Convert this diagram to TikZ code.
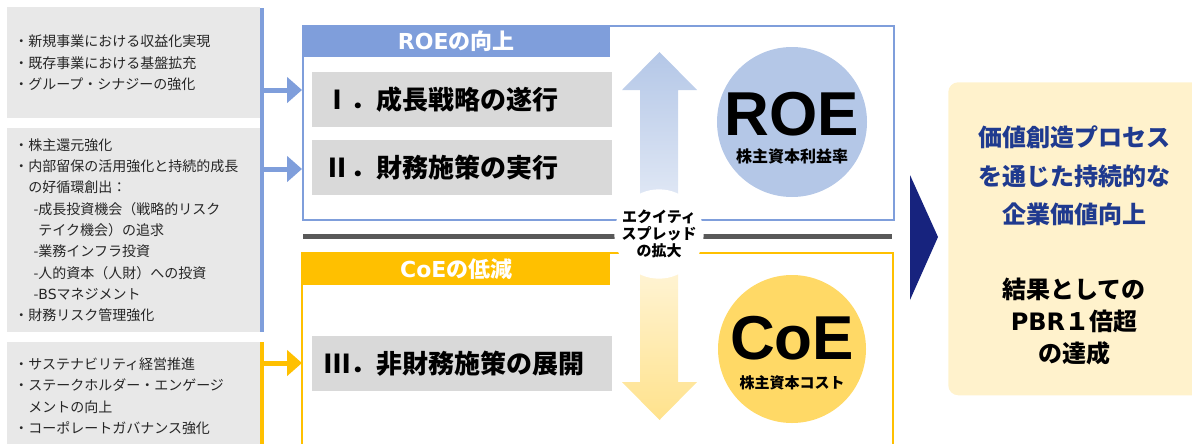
\documentclass[tikz,border=0pt]{standalone}
\usepackage{fontspec}
\setmainfont{Noto Sans CJK JP}
\newfontfamily\lat{DejaVu Sans}
\newfontfamily\arl{Liberation Sans}
\usetikzlibrary{arrows.meta}
\definecolor{lgray}{HTML}{E8E8E8}
\definecolor{mgray}{HTML}{D9D9D9}
\definecolor{roeblue}{HTML}{7F9EDB}
\definecolor{coeyel}{HTML}{FFC000}
\definecolor{roecirc}{HTML}{B4C7E7}
\definecolor{coecirc}{HTML}{FFD966}
\definecolor{darkline}{HTML}{595959}
\definecolor{navy}{HTML}{17237E}
\definecolor{textblue}{HTML}{1F3A8F}
\definecolor{cream}{HTML}{FFF2CC}
\definecolor{upA}{HTML}{B4C7E7}
\definecolor{upB}{HTML}{EAEFF8}
\definecolor{dnA}{HTML}{FFF8E6}
\definecolor{dnB}{HTML}{FFE28C}
\newcommand{\myb}{・}
\newcommand{\myind}{\phantom{・}}
\newcommand{\mysub}{\phantom{・}\hspace{4pt}}
\begin{document}
\begin{tikzpicture}[x=0.75pt,y=-0.75pt,
  leftbox/.style={rectangle, fill=lgray, anchor=north west, inner xsep=5.25pt, inner ysep=0pt,
    text width=179.25pt, align=left, font=\fontsize{10.5pt}{16pt}\selectfont, text=black!85},
  stratbox/.style={rectangle, fill=mgray, anchor=north west, inner xsep=9pt, inner ysep=0pt,
    text width=207pt, minimum height=41.25pt, align=left, font=\fontsize{19.5pt}{22pt}\selectfont\bfseries},
  header/.style={rectangle, anchor=north west, inner sep=0pt, minimum width=231pt, minimum height=24pt,
    text=white, font=\fontsize{16.5pt}{18pt}\selectfont\bfseries},
  feed/.style={line width=3.75pt, -{Triangle[length=11.25pt,width=19pt]}},
  bar/.style={line width=2.6pt},
  frameline/.style={line width=1.5pt},
  bigcirc/.style={circle, inner sep=0pt},
  bigword/.style={font=\arl\fontsize{46.5pt}{46.5pt}\selectfont\bfseries},
  subword/.style={font=\fontsize{12pt}{14pt}\selectfont\bfseries},
]
\useasboundingbox (0,0) rectangle (1192,443);

% left boxes
\node[leftbox, minimum height=83.25pt] (L1) at (7,7) {%
\myb 新規事業における収益化実現\\
\myb 既存事業における基盤拡充\\
\myb グループ・シナジーの強化};
\node[leftbox, minimum height=153pt] (L2) at (7,128) {%
\myb 株主還元強化\\
\myb 内部留保の活用強化と持続的成長\\
\myind の好循環創出：\\
\mysub -成長投資機会（戦略的リスク\\
\mysub \phantom{-}テイク機会）の追求\\
\mysub -業務インフラ投資\\
\mysub -人的資本（人財）への投資\\
\mysub -{\lat BS}マネジメント\\
\myb 財務リスク管理強化};
\node[leftbox, minimum height=81pt] (L3) at (7,342) {%
\myb サステナビリティ経営推進\\
\myb ステークホルダー・エンゲージ\\
\myind メントの向上\\
\myb コーポレートガバナンス強化};

% bars
\coordinate (btop) at (262,8);
\coordinate (bbot) at (262,332);
\draw[bar, roeblue] (btop) -- (bbot);
\coordinate (ytop) at (262,342);
\coordinate (ybot) at (262,450);
\draw[bar, coeyel] (ytop) -- (ybot);

% frames
\node[rectangle, draw=roeblue, frameline, anchor=north west, inner sep=0pt,
  minimum width=443.25pt, minimum height=145.5pt] (roeframe) at (302,25) {};
\coordinate (coetl) at (302,253);
\coordinate (coetr) at (893,253);
\draw[coeyel, line width=1.9pt] (302,460) -- (coetl) -- (coetr) -- (893,460);

% feed arrows
\coordinate (a1) at (262,90);
\coordinate (a2) at (262,169);
\coordinate (a3) at (262,363);
\draw[feed, roeblue] (a1) -- (a1 -| roeframe.west);
\draw[feed, roeblue] (a2) -- (a2 -| roeframe.west);
\draw[feed, coeyel] (a3) -- (a3 -| coetl);

% headers
\node[header, fill=roeblue] (roehead) at (302,25) {{\lat ROE}の向上};
\node[header, fill=coeyel] (coehead) at (302,253) {{\lat CoE}の低減};

% strategy boxes
\node[stratbox] (S1) at (312,72) {Ⅰ．成長戦略の遂行};
\node[stratbox] (S2) at (312,140) {Ⅱ．財務施策の実行};
\node[stratbox] (S3) at (312,336) {Ⅲ．非財務施策の展開};

% separator
\coordinate (sepl) at (303,236);
\coordinate (sepr) at (892,236);
\draw[darkline, line width=3.75pt] (sepl) -- (sepr);

% shaded arrows
\shade[top color=upA, bottom color=upB] (640,233) -- (640,90) -- (622,90) -- (659.5,52) -- (697,90) -- (678,90) -- (678,233) -- cycle;
\shade[top color=dnA, bottom color=dnB] (640,233) -- (640,382) -- (622,382) -- (659.5,420) -- (697,382) -- (678,382) -- (678,233) -- cycle;

% label
\node[circle, fill=white, minimum size=64.5pt, inner sep=0pt, align=center,
  font=\fontsize{11.25pt}{13pt}\selectfont\bfseries] (spread) at (659,234) {エクイティ\\スプレッド\\の拡大};

% circles
\node[bigcirc, fill=roecirc, minimum size=112.5pt] (roec) at (792,122) {};
\node[bigword] (roew) at (792,114) {ROE};
\node[subword] (roes) at (792,156) {株主資本利益率};
\node[bigcirc, fill=coecirc, minimum size=111pt] (coec) at (792,349) {};
\node[bigword] (coew) at (792,338) {CoE};
\node[subword, font=\fontsize{11.25pt}{14pt}\selectfont\bfseries] (coes) at (792,383) {株主資本コスト};

% triangle
\fill[navy] (910,175) -- (938,237) -- (910,300) -- cycle;

% right box
\node[rectangle, rounded corners=7.5pt, fill=cream, anchor=north west, inner sep=0pt,
  minimum width=195pt, minimum height=234.75pt] (result) at (948,82) {};
\node[align=center, text=textblue, font=\fontsize{18pt}{29pt}\selectfont\bfseries] (goal) at (1074,176)
  {価値創造プロセス\\を通じた持続的な\\企業価値向上};
\node[align=center, text=black, font=\fontsize{18pt}{24pt}\selectfont\bfseries] (pbr) at (1074,322)
  {結果としての\\{\lat PBR}１倍超\\の達成};
\end{tikzpicture}
\end{document}
